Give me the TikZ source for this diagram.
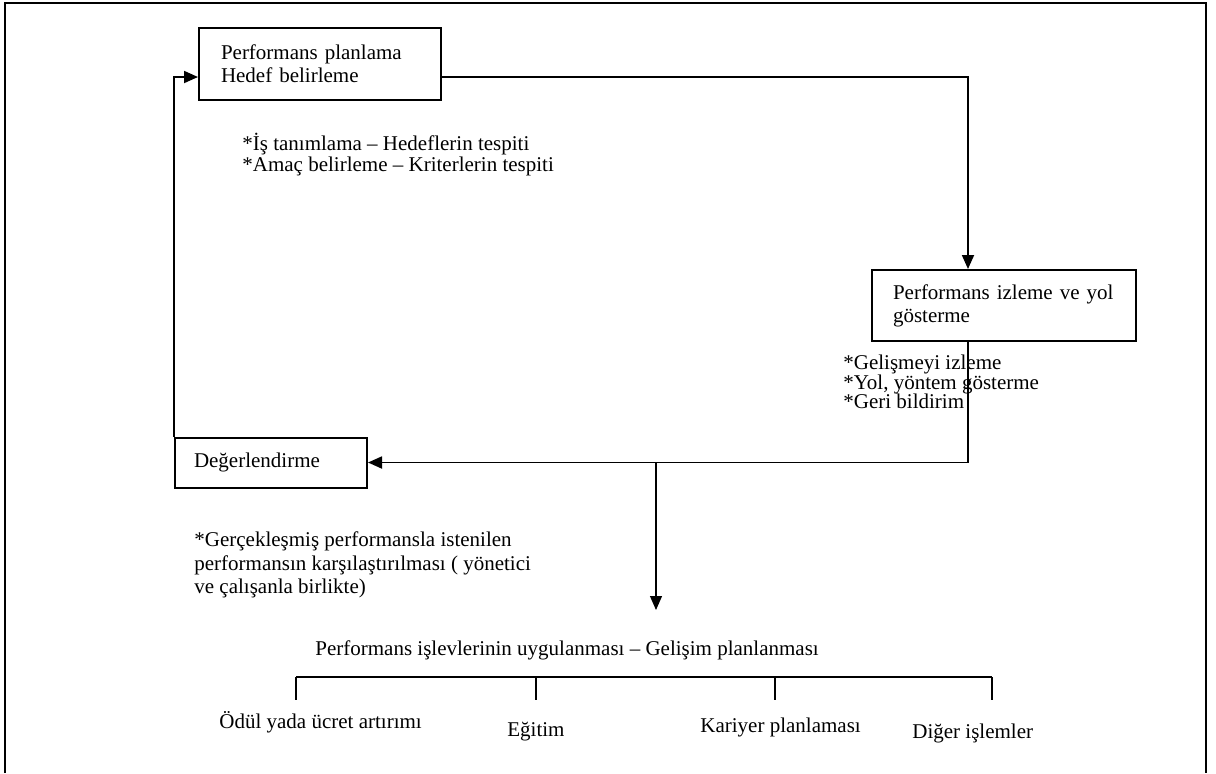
\documentclass[tikz,border=0pt]{standalone}
\usepackage{fontspec}
\setmainfont{Liberation Serif}
\usetikzlibrary{arrows.meta}
\begin{document}
\begin{tikzpicture}[x=0.5pt,y=-0.5pt,
  font=\fontsize{10.5pt}{11.5pt}\selectfont,
  box/.style={draw,line width=1pt,inner ysep=0pt,align=left},
  txt/.style={inner sep=0pt,align=left,anchor=west},
  conn/.style={line width=0.9pt},
  thin/.style={line width=0.6pt},
  arr/.style={-{Triangle[length=7pt,width=6pt]}}]
\useasboundingbox (0,0) rectangle (1216,773);
% frame
\draw[line width=1pt] (5,773) -- (5,3) -- (1206,3) -- (1206,773);
% boxes
\node[box,minimum width=121pt,minimum height=36pt,inner xsep=11pt,text width=99pt] (b1) at (320,64)
  {Performans planlama\\Hedef belirleme};
\node[box,minimum width=132pt,minimum height=35.5pt,inner xsep=10.5pt,text width=111pt] (b2) at (1004,305.5)
  {Performans izleme ve yol\\gösterme};
\node[box,minimum width=96pt,minimum height=25pt,inner xsep=9.5pt,text width=77pt] (deg) at (271,462.5)
  {Değerlendirme};
% annotations
\node[txt,font=\fontsize{10.5pt}{9.3pt}\selectfont] (a1) at (242,155)
  {*İş tanımlama -- Hedeflerin tespiti\\*Amaç belirleme -- Kriterlerin tespiti};
\node[txt,font=\fontsize{10.5pt}{9.6pt}\selectfont] (a2) at (843,382)
  {*Gelişmeyi izleme\\*Yol, yöntem gösterme\\*Geri bildirim};
\node[txt,font=\fontsize{10.5pt}{11.7pt}\selectfont] (a3) at (194,565)
  {*Gerçekleşmiş performansla istenilen\\performansın karşılaştırılması ( yönetici\\ve çalışanla birlikte)};
\node[txt] (title) at (315,650) {Performans işlevlerinin uygulanması -- Gelişim planlanması};
\node[txt] (l1) at (219,722) {Ödül yada ücret artırımı};
\node[txt] (l2) at (507,732) {Eğitim};
\node[txt] (l3) at (700,727) {Kariyer planlaması};
\node[txt] (l4) at (912,733) {Diğer işlemler};
% connectors
\draw[conn,arr] (deg.north west) |- ([yshift=-6.5pt]b1.west);
\draw[conn,arr] ([yshift=-6.5pt]b1.east) -| ([xshift=-18pt]b2.north);
\draw[conn,arr] ([xshift=-18pt]b2.south) |- (deg.east);
\coordinate (br) at (656,462.5);
\coordinate (brend) at (656,610);
\draw[thin,arr] (br) -- (brend);
% bracket
\coordinate (k1) at (296,677);
\coordinate (k2) at (536,677);
\coordinate (k3) at (775,677);
\coordinate (k4) at (992,677);
\draw[conn] (k1) -- (k4);
\draw[conn] (k1) -- ++(0,23);
\draw[thin] (k2) -- ++(0,23);
\draw[thin] (k3) -- ++(0,23);
\draw[thin] (k4) -- ++(0,23);
\end{tikzpicture}
\end{document}
